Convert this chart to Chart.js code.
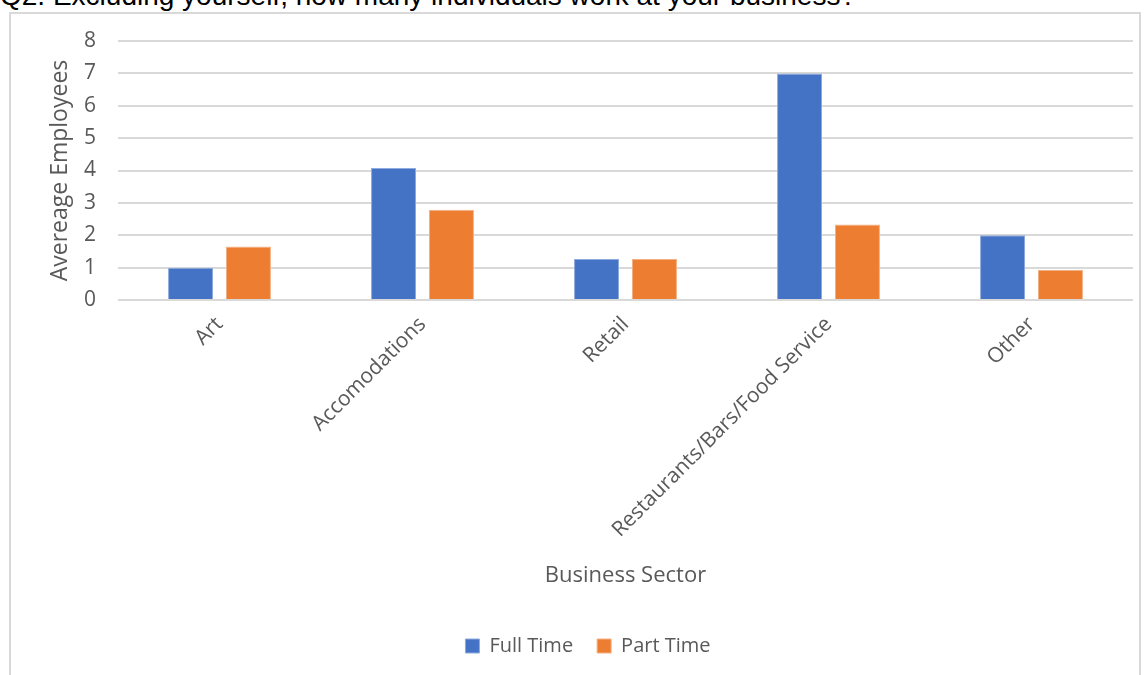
<!DOCTYPE html>
<html>
<head>
<meta charset="utf-8">
<script src="https://cdn.jsdelivr.net/npm/chart.js@4"></script>
<style>
  html, body { margin: 0; padding: 0; background: #fff; overflow: hidden; }
  #page { position: relative; width: 1148px; height: 675px; overflow: hidden; }
  #heading {
    position: absolute; left: 0; top: -18px; white-space: nowrap;
    font-family: "Liberation Sans", Arial, sans-serif; font-size: 28px; line-height: 28px; color: #000;
  }
  #frame {
    position: absolute; left: 9px; top: 12px; width: 1132px; height: 700px;
    border: 2px solid #D9D9D9; box-sizing: border-box;
  }
  #chart { position: absolute; left: 0; top: 0; }
</style>
</head>
<body>
<div id="page">
  <div id="heading">Q2. Excluding yourself, how many individuals work at your business?</div>
  <div id="frame"></div>
  <canvas id="chart" width="1148" height="675"></canvas>
</div>
<script>
const sectors = ['Art', 'Accomodations', 'Retail', 'Restaurants/Bars/Food Service', 'Other'];
const fullTime = [1.0, 4.08, 1.27, 7.0, 2.0];
const partTime = [1.65, 2.79, 1.27, 2.33, 0.93];
const yTicks = [0, 1, 2, 3, 4, 5, 6, 7, 8];

const gray = '#595959';
const font = 'Open Sans';

// legend sits at the bottom; x axis box is sized so the plot ends on the 0 line
const LEGEND_PAD = 24;

new Chart(document.getElementById('chart').getContext('2d'), {
  type: 'bar',
  data: {
    labels: sectors,
    datasets: [
      {
        label: 'Full Time',
        data: fullTime,
        backgroundColor: '#4472C4',
        borderColor: '#8FAADC',
        borderWidth: 1,
        categoryPercentage: 0.571,
        barPercentage: 0.776
      },
      {
        label: 'Part Time',
        data: partTime,
        backgroundColor: '#ED7D31',
        borderColor: '#F4B183',
        borderWidth: 1,
        categoryPercentage: 0.571,
        barPercentage: 0.776
      }
    ]
  },
  options: {
    responsive: false,
    animation: false,
    devicePixelRatio: 1,
    layout: { padding: { left: 43, right: 15, top: 41, bottom: 9 } },
    plugins: {
      legend: {
        position: 'bottom',
        labels: {
          color: gray,
          font: { family: font, size: 20 },
          boxWidth: 14,
          boxHeight: 14,
          padding: LEGEND_PAD
        }
      },
      tooltip: { enabled: false }
    },
    scales: {
      x: {
        grid: { display: false },
        border: { display: false },
        ticks: {
          color: gray,
          font: { family: font, size: 21 },
          minRotation: 45,
          maxRotation: 45,
          padding: 4
        },
        title: {
          display: true,
          text: 'Business Sector',
          color: gray,
          font: { family: font, size: 22 },
          padding: { top: 0, bottom: 23 }
        },
        afterFit: (scale) => { scale.height = 312; }
      },
      y: {
        min: 0,
        max: 8,
        afterBuildTicks: (scale) => { scale.ticks = yTicks.map(v => ({ value: v })); },
        grid: { color: '#D9D9D9', lineWidth: 2, drawTicks: false },
        border: { display: false },
        ticks: {
          color: gray,
          font: { family: font, size: 21 },
          padding: 22
        },
        title: {
          display: true,
          text: 'Avereage Employees',
          color: gray,
          font: { family: font, size: 23 },
          padding: { top: 4, bottom: 4 }
        },
        afterFit: (scale) => { scale.width = 75; }
      }
    }
  }
});
</script>
</body>
</html>
